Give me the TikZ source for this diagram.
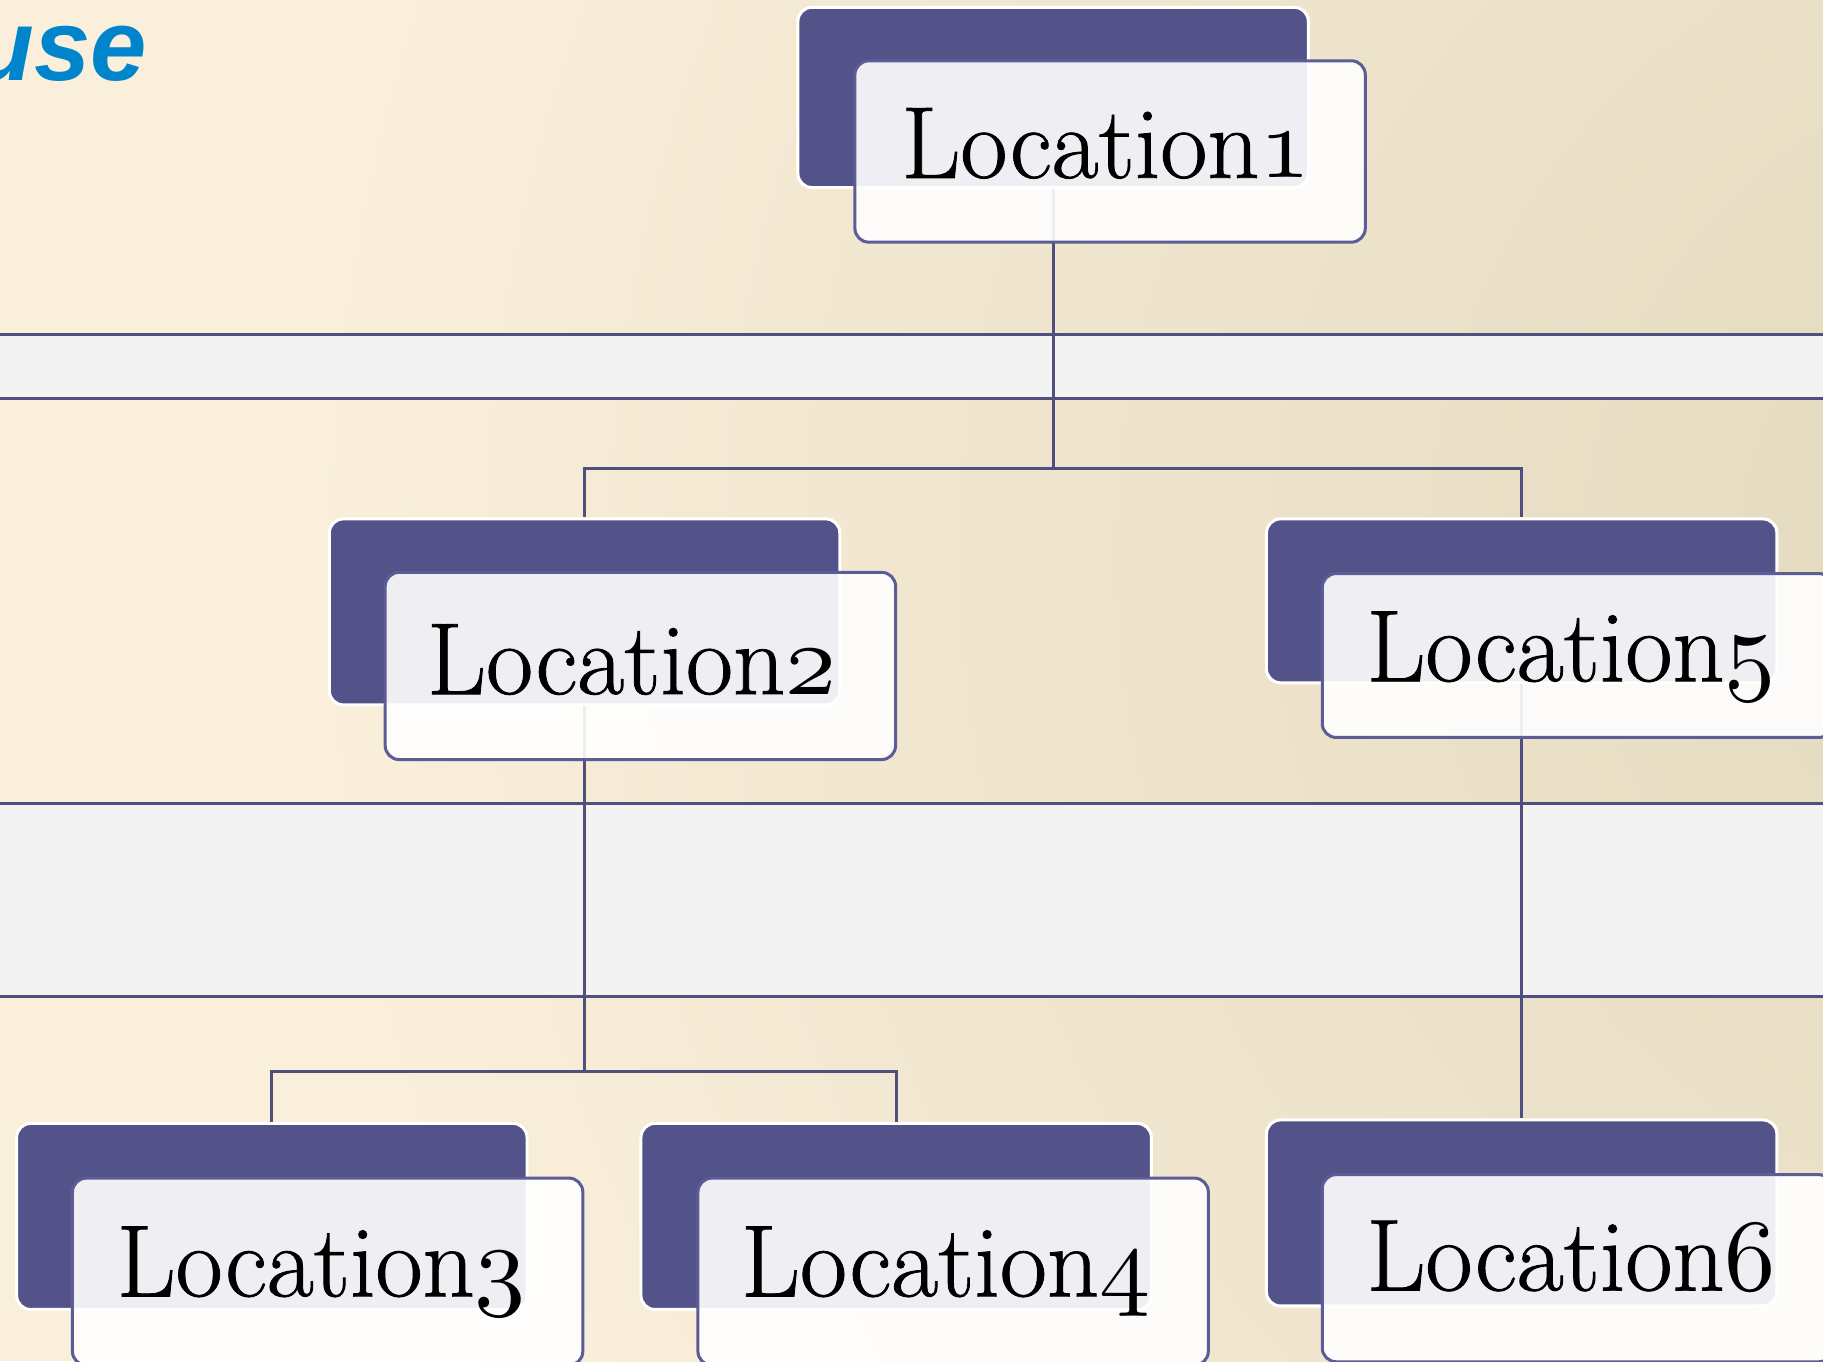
\documentclass[tikz,border=0pt]{standalone}
\usepackage{fontspec}
\newfontfamily\titlefont{Liberation Sans}
\newfontfamily\cardfont{Latin Modern Roman}[FakeBold=0.8]
% old-style figures from Computer Modern math italic
\font\osf=cmmi10 at 44pt

\definecolor{paper}{RGB}{249,239,219}
\definecolor{paperdark}{RGB}{226,216,188}
\definecolor{bandfill}{RGB}{243,243,243}
\definecolor{rulecol}{RGB}{80,80,128}
\definecolor{plum}{RGB}{83,83,137}
\definecolor{framecol}{RGB}{92,92,150}
\definecolor{titleblue}{RGB}{0,133,204}

\tikzset{
  backbox/.style={draw=white, line width=1.3pt, fill=plum, rounded corners=6pt,
    inner sep=0pt, anchor=north west, minimum width=219.5pt},
  frontbox/.style={draw=framecol, line width=1.3pt, fill=white, fill opacity=0.9,
    draw opacity=1, rounded corners=6pt, inner sep=0pt, anchor=north west,
    minimum width=219.5pt},
  loclabel/.style={inner sep=0pt, anchor=base west, text=black,
    font=\cardfont\fontsize{44}{44}\selectfont},
  link/.style={draw=rulecol, line width=1.3pt},
  bandline/.style={draw=rulecol, line width=1.3pt},
}

\begin{document}
\begin{tikzpicture}[x=0.5pt, y=-0.5pt]
\useasboundingbox (0,0) rectangle (1568,1171);
\clip (0,0) rectangle (1568,1171);

% paper background with a darker warm patch on the right
\fill[paper] (0,0) rectangle (1568,1171);
\shade[inner color=paperdark, outer color=paper] (1800,480) circle (1550);

% grey bands across the page
\fill[bandfill] (0,288) rectangle (1568,343);
\draw[bandline] (0,288) -- (1568,288);
\draw[bandline] (0,343) -- (1568,343);
\fill[bandfill] (0,691) rectangle (1568,857);
\draw[bandline] (0,691) -- (1568,691);
\draw[bandline] (0,857) -- (1568,857);

% heading fragment
\node[anchor=base east, inner sep=0pt, text=titleblue,
  font=\titlefont\fontsize{43.5}{43.5}\bfseries\itshape\selectfont] (ttl) at (127,69) {use};

% dark back plates
\node[backbox, minimum height=77.5pt] (b1) at (685,5) {};
\node[backbox, minimum height=80pt]   (b2) at (282,445) {};
\node[backbox, minimum height=70.5pt] (b5) at (1088,445) {};
\node[backbox, minimum height=80pt]   (b3) at (13,965) {};
\node[backbox, minimum height=80pt]   (b4) at (550,965) {};
\node[backbox, minimum height=80pt]   (b6) at (1088,962) {};

% tree connectors
\coordinate (lvl1) at (0,403);
\coordinate (lvl2) at (0,922);
\draw[link] (b1.south) -- (b1.south |- lvl1) coordinate (f1);
\draw[link] (b2.north) |- (f1) -| (b5.north);
\draw[link] (b2.south) -- (b2.south |- lvl2) coordinate (f2);
\draw[link] (b3.north) |- (f2) -| (b4.north);
\draw[link] (b5.south) -- (b6.north);

% light front cards
\node[frontbox, minimum height=78pt]   (c1) at (734,51) {};
\node[frontbox, minimum height=80.5pt] (c2) at (330,491) {};
\node[frontbox, minimum height=70.5pt] (c5) at (1136,492) {};
\node[frontbox, minimum height=80.5pt] (c3) at (61,1012) {};
\node[frontbox, minimum height=80.5pt] (c4) at (599,1012) {};
\node[frontbox, minimum height=80.5pt] (c6) at (1136,1009) {};

% card labels
\node[loclabel] (t1) at (775,153)  {Location{\osf 1}};
\node[loclabel] (t2) at (367,597)  {Location{\osf 2}};
\node[loclabel] (t5) at (1175,586) {Location{\osf 5}};
\node[loclabel] (t3) at (100,1115) {Location{\osf 3}};
\node[loclabel] (t4) at (637,1115) {Location{\osf 4}};
\node[loclabel] (t6) at (1175,1110) {Location{\osf 6}};
\end{tikzpicture}
\end{document}
